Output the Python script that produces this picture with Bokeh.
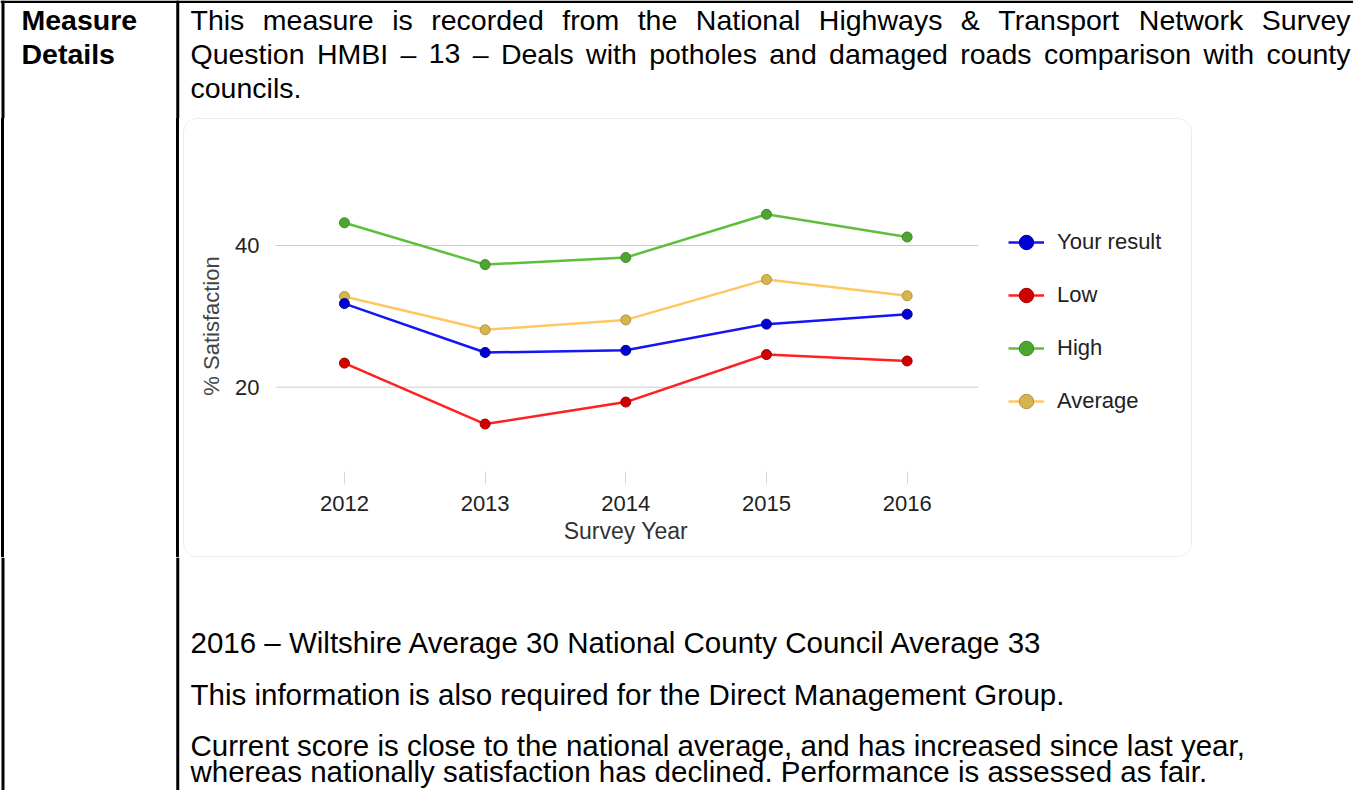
from bokeh.plotting import figure
from bokeh.models import (Range1d, FixedTicker, Legend, LegendItem, Label, Span,
                          Div, Column, Row, Title)
from bokeh.embed import file_html
from bokeh.resources import INLINE

# ---------------- data ----------------
years = [2012, 2013, 2014, 2015, 2016]
your_result = [31.8, 24.9, 25.2, 28.9, 30.3]
low = [23.4, 14.8, 17.9, 24.6, 23.7]
high = [43.2, 37.3, 38.3, 44.4, 41.2]
average = [32.8, 28.1, 29.5, 35.2, 32.9]
y_ticks = [20, 40]

series_names = ["Your result", "Low", "High", "Average"]
x_title = "Survey Year"
y_title = "% Satisfaction"

header_label = ["Measure", "Details"]
top_lines = [
    "This measure is recorded from the National Highways & Transport Network Survey",
    "Question HMBI \u2013 13 \u2013 Deals with potholes and damaged roads comparison with county",
    "councils.",
]
bottom_lines = [
    "2016 \u2013 Wiltshire Average 30 National County Council Average 33",
    "This information is also required for the Direct Management Group.",
    "Current score is close to the national average, and has increased since last year,",
    "whereas nationally satisfaction has declined. Performance is assessed as fair.",
]

# ---------------- layout constants (page px) ----------------
W, H = 1353, 790
CX0, CX1, CY0, CY1 = 183, 1192, 118, 557      # chart container (outer)
FL, FT, FB = 275, 180, 471                     # plot area left, top, bottom
GRID_END = 978                                 # gridlines stop here
SEP_X = 177.25                                 # table column separator
OUT_X = 2.5                                    # outer left border
TOP_Y = 1.25                                   # outer top border
PX_PER_YEAR = 140.68
PX_PER_UNIT = 7.085
X0, Y0 = 2011.51, 8.1                           # values at plot-area left / bottom

CHART_FONT = "Liberation Sans"
DOC_FONT = "Liberation Sans"
FS_TOP = 28.5
FS_BOT = 29.5

AW = {' ': 278, '!': 278, '&': 667, ',': 278, '-': 333, '.': 278, '\u2013': 556, '%': 889}
for d in "0123456789":
    AW[d] = 556
AW.update(dict(zip("ABCDEFGHIJKLMNOPQRSTUVWXYZ",
                   [667, 667, 722, 722, 667, 611, 778, 722, 278, 500, 667, 556, 833,
                    722, 778, 667, 778, 722, 667, 611, 722, 667, 944, 667, 667, 611])))
AW.update(dict(zip("abcdefghijklmnopqrstuvwxyz",
                   [556, 556, 500, 556, 556, 278, 556, 556, 222, 222, 500, 222, 833,
                    556, 556, 556, 556, 333, 500, 278, 556, 500, 722, 500, 500, 500])))


def text_width(s, fs):
    return sum(AW.get(c, 556) for c in s) / 1000.0 * fs


def blank(width, height, x0, x1, y0, y1):
    f = figure(width=width, height=height, output_backend="svg",
               toolbar_location=None, x_range=Range1d(x0, x1),
               y_range=Range1d(y1, y0), x_axis_location=None,
               y_axis_location=None, min_border=0)
    f.outline_line_color = None
    f.grid.visible = False
    f.background_fill_color = "white"
    f.border_fill_color = "white"
    f.add_layout(Span(location=SEP_X, dimension="height",
                      line_color="black", line_width=3))
    f.add_layout(Span(location=OUT_X, dimension="height",
                      line_color="black", line_width=3))
    return f


# ---------------- chart ----------------
cw, ch = CX1 - CX0 - 2, CY1 - CY0 - 2          # inside a 1px border
cl, ct = CX0 + 1, CY0 + 1
x_end = X0 + (cl + cw - FL) / PX_PER_YEAR
y_end = Y0 + (FB - FT) / PX_PER_UNIT
x_grid_end = X0 + (GRID_END - FL) / PX_PER_YEAR

p = figure(width=cw, height=ch, output_backend="svg", toolbar_location=None,
           x_range=Range1d(X0, x_end), y_range=Range1d(Y0, y_end),
           min_border_left=FL - cl, min_border_right=0,
           min_border_top=FT - ct, min_border_bottom=ct + ch - FB)
p.outline_line_color = None
p.background_fill_color = "white"
p.border_fill_color = "white"

p.xaxis.ticker = FixedTicker(ticks=years)
p.xaxis.axis_line_color = None
p.xaxis.major_tick_out = 12
p.xaxis.major_tick_in = 0
p.xaxis.minor_tick_line_color = None
p.xaxis.major_tick_line_color = "#d6d6d6"
p.xaxis.major_label_text_font = CHART_FONT
p.xaxis.major_label_text_font_size = "22px"
p.xaxis.major_label_text_color = "#222222"
p.xaxis.major_label_standoff = 12

# x-axis title centred under the data area (not under the whole frame)
XT_FS = 23
x_title_left = (FL + GRID_END) / 2 - text_width(x_title, XT_FS) / 2
p.add_layout(Title(text=x_title, align="left", offset=x_title_left - FL,
                   standoff=4, text_font=CHART_FONT, text_font_size=f"{XT_FS}px",
                   text_font_style="normal", text_color="#333333"), "below")

p.yaxis.ticker = FixedTicker(ticks=y_ticks)
p.yaxis.axis_line_color = None
p.yaxis.major_tick_line_color = None
p.yaxis.minor_tick_line_color = None
p.yaxis.major_tick_out = 0
p.yaxis.major_label_text_font = CHART_FONT
p.yaxis.major_label_text_font_size = "22px"
p.yaxis.major_label_text_color = "#222222"
p.yaxis.major_label_standoff = 16
p.yaxis.axis_label = y_title
p.yaxis.axis_label_text_font = CHART_FONT
p.yaxis.axis_label_text_font_size = "22px"
p.yaxis.axis_label_text_font_style = "normal"
p.yaxis.axis_label_text_color = "#444444"
p.yaxis.axis_label_standoff = 8

# horizontal gridlines only across the data area (Google-chart style)
p.grid.visible = False
p.segment(x0=[X0] * len(y_ticks), x1=[x_grid_end] * len(y_ticks),
          y0=y_ticks, y1=y_ticks, line_color="#cccccc", line_width=1)

styles = {
    "Your result": dict(line="#1515f5", fill="#0000d0", edge="#0000a0"),
    "Low": dict(line="#ff2020", fill="#d00000", edge="#a00000"),
    "High": dict(line="#5dbf3c", fill="#4ea631", edge="#3d8a25"),
    "Average": dict(line="#ffc75f", fill="#d6b450", edge="#b59438"),
}
values = {"Your result": your_result, "Low": low, "High": high, "Average": average}

items = {}
for name in ["Average", "High", "Low", "Your result"]:
    st = styles[name]
    ln = p.line(years, values[name], line_color=st["line"], line_width=2.5)
    sc = p.scatter(years, values[name], marker="circle", size=10,
                   fill_color=st["fill"], line_color=st["edge"], line_width=1)
    items[name] = LegendItem(label=name, renderers=[ln, sc])

legend = Legend(items=[items[n] for n in series_names],
                location=(1008 - FL, FB - 419),
                orientation="vertical", glyph_width=36, glyph_height=36,
                label_height=22, spacing=17, label_standoff=13,
                padding=0, margin=0, border_line_color=None,
                background_fill_alpha=0,
                label_text_font=CHART_FONT, label_text_font_size="22px",
                label_text_color="#222222")
p.add_layout(legend, "center")

chart_box = Column(children=[p], width=CX1 - CX0, height=CY1 - CY0,
                   styles={"border": "1px solid #ececec", "border-radius": "14px",
                           "box-sizing": "border-box", "overflow": "hidden"})

sep = Div(text="", width=CX0, height=CY1 - CY0, margin=0,
          styles={"background": "linear-gradient(to right, #ffffff 1px, #000000 1px, "
                                "#000000 4px, #ffffff 4px, #ffffff 176px, #000000 176px, "
                                "#000000 179px, #ffffff 179px)"})

# ---------------- document parts ----------------
top = blank(W, CY0, 0, W, 0, CY0)
top.add_layout(Span(location=TOP_Y, dimension="width",
                    line_color="black", line_width=2.5))
bottom = blank(W, H - CY1, 0, W, CY1, H)


def add_text(fig, x, y, txt, fs, bold=False):
    fig.add_layout(Label(x=x, y=y, text=txt, text_font=DOC_FONT,
                         text_font_size=f"{fs}px",
                         text_font_style="bold" if bold else "normal",
                         text_color="black", text_align="left",
                         text_baseline="middle"))


def add_justified(fig, x0, x1, y, line, fs):
    words = line.split(" ")
    total = sum(text_width(w, fs) for w in words)
    gap = (x1 - x0 - total) / (len(words) - 1)
    x = x0
    for w in words:
        add_text(fig, x, y, w, fs)
        x += text_width(w, fs) + gap


# y values = visual centre of each text line
add_text(top, 21, 19, header_label[0], FS_TOP, bold=True)
add_text(top, 21, 53, header_label[1], FS_TOP, bold=True)
add_justified(top, 190, 1350, 19, top_lines[0], FS_TOP)
add_justified(top, 190, 1350, 53, top_lines[1], FS_TOP)
add_text(top, 190, 87, top_lines[2], FS_TOP)

for yc, line in zip([642, 694, 745, 771], bottom_lines):
    add_text(bottom, 190, yc, line, FS_BOT)

page = Column(children=[top, Row(children=[sep, chart_box]), bottom])
open("out.html", "w").write(file_html(page, INLINE))
